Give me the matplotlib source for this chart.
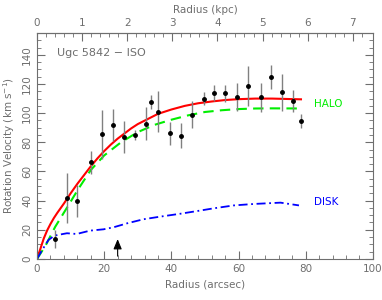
import matplotlib
matplotlib.use("Agg")
import matplotlib.pyplot as plt
from matplotlib.ticker import MultipleLocator, FixedLocator
import numpy as np

# observed rotation curve (arcsec, km/s, error)
r_obs = [5.2, 9.0, 11.9, 16.0, 19.3, 22.7, 25.8, 29.3, 32.3, 33.8, 36.0, 39.5,
         42.8, 46.0, 49.6, 52.7, 56.1, 59.4, 62.8, 66.7, 69.6, 72.8, 76.3, 78.6]
v_obs = [13.5, 41.6, 39.7, 66.2, 85.4, 92.0, 83.5, 85.2, 92.9, 107.7, 100.9, 86.1,
         84.5, 99.0, 110.0, 113.7, 113.5, 111.2, 118.7, 111.0, 124.9, 114.4, 108.4, 94.5]
v_err = [6, 17, 11, 8, 17, 11, 11, 3.5, 11, 5, 14, 8,
         8.5, 9, 4.5, 5.7, 5.7, 9.6, 13.7, 10, 8, 12.8, 7.4, 5]

# model curves
r_tot = [0, 1, 2, 3, 4, 5, 6, 8, 10, 12, 14, 16, 18, 20, 22, 24, 26, 28, 30, 33,
         36, 40, 44, 48, 52, 56, 60, 65, 70, 75, 78.6]
v_tot = [0, 7, 14, 19.5, 24, 28, 31.5, 38, 45, 51.5, 57.5, 63.5, 69, 74, 78.5,
         82.5, 86, 89.5, 92.5, 96, 99.5, 102.5, 105, 106.8, 108, 109, 109.6, 110,
         110, 109.7, 109.5]

r_halo = [0, 2.5, 5.4, 9, 12.3, 16, 20, 25, 30, 35, 40, 45, 50, 55, 60, 65, 70, 78.6]
v_halo = [0, 9, 22, 35.5, 48, 61, 71, 80, 87, 92, 95.5, 98.5, 100.8, 102, 102.8,
          103.2, 103.3, 103.2]

r_disk = [0, 1.5, 3.4, 5.2, 8.9, 11.8, 15.8, 19.8, 22.8, 26.8, 31.7, 36.7, 42.7,
          48.4, 52.6, 58.6, 64.6, 72.5, 78.0]
v_disk = [0, 6, 13, 16, 17.6, 17.1, 19.4, 20.3, 21.7, 24.4, 27.2, 29, 31,
          33.1, 34.7, 36.7, 37.7, 38.6, 36.7]

arcsec_per_kpc = 13.43
grey = "#6e6e6e"

fig = plt.figure(figsize=(3.82, 3.0), dpi=100)
ax = fig.add_axes([0.097, 0.137, 0.879, 0.753])

ax.errorbar(r_obs, v_obs, yerr=v_err, fmt="o", color="black", ms=2.5,
            ecolor="#808080", elinewidth=1.0, capsize=0, zorder=3)
ax.plot(r_tot, v_tot, color="#ff0000", lw=1.5, zorder=2)
ax.plot(r_halo, v_halo, color="#00ee00", lw=1.5, ls=(0, (5, 3)), zorder=2)
ax.plot(r_disk, v_disk, color="#0000ff", lw=1.3, ls=(0, (5, 2, 1, 2)), zorder=2)

ax.annotate("", xy=(24.0, 15.5), xytext=(24.0, 0),
            arrowprops=dict(arrowstyle="-|>,head_width=0.25,head_length=0.6",
                            color="black", lw=0.8))

ax.text(82.4, 106, "HALO", color="#00ee00", fontsize=7.5, va="center")
ax.text(82.4, 39.3, "DISK", color="#0000ff", fontsize=7.5, va="center")
ax.text(6, 141, "Ugc 5842 \u2212 ISO", color=grey, fontsize=8, va="center")

ax.set_xlim(0, 100)
ax.set_ylim(0, 155)
ax.xaxis.set_major_locator(MultipleLocator(20))
ax.xaxis.set_minor_locator(MultipleLocator(4))
ax.yaxis.set_major_locator(MultipleLocator(20))
ax.yaxis.set_minor_locator(MultipleLocator(5))
ax.tick_params(which="both", direction="in", colors=grey, labelsize=7.5,
               labelcolor=grey, right=True)
ax.tick_params(which="major", length=6)
ax.tick_params(which="minor", length=3)
for lab in ax.get_yticklabels():
    lab.set_rotation(90)
    lab.set_va("center")
for s in ax.spines.values():
    s.set_color(grey)

ax.set_xlabel("Radius (arcsec)", color=grey, fontsize=7.5)
ax.set_ylabel("Rotation Velocity (km s$^{-1}$)", color=grey, fontsize=7.5)

top = ax.secondary_xaxis("top", functions=(lambda x: x / arcsec_per_kpc,
                                           lambda k: k * arcsec_per_kpc))
top.xaxis.set_major_locator(FixedLocator([0, 1, 2, 3, 4, 5, 6, 7]))
top.xaxis.set_minor_locator(FixedLocator(np.arange(0.2, 7.4, 0.2)))
top.tick_params(which="both", direction="in", colors=grey, labelsize=7.5,
                labelcolor=grey)
top.tick_params(which="major", length=6)
top.tick_params(which="minor", length=3)
top.spines["top"].set_color(grey)
top.set_xlabel("Radius (kpc)", color=grey, fontsize=7.5)

fig.savefig("out.png", dpi=100)
